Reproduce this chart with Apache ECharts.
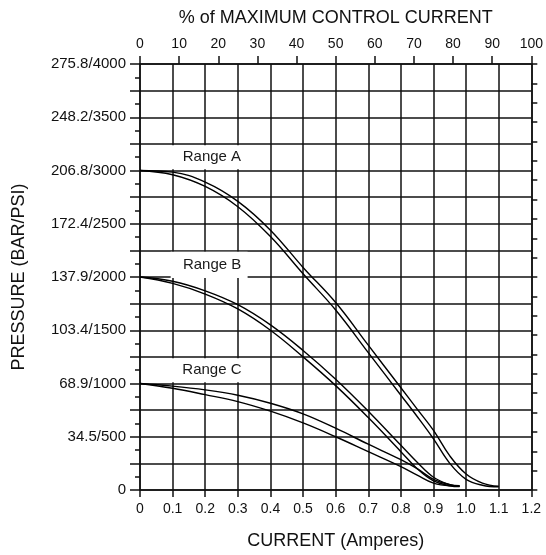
<!DOCTYPE html>
<html><head><meta charset="utf-8">
<script src="https://cdn.jsdelivr.net/npm/echarts@6/dist/echarts.min.js"></script>
<style>html,body{margin:0;padding:0;background:#fff}#c{width:546px;height:555px}</style>
</head><body><div id="c"></div><script>
// ---- data ----
const psiTicks   = [0, 500, 1000, 1500, 2000, 2500, 3000, 3500, 4000];
const tickLabels = ['0', '34.5/500', '68.9/1000', '103.4/1500', '137.9/2000', '172.4/2500', '206.8/3000', '248.2/3500', '275.8/4000'];

const ampsA     = [0, 0.1, 0.2, 0.3, 0.4, 0.5, 0.6, 0.7, 0.8, 0.85, 0.9, 0.95, 1.0, 1.05, 1.1];
const psiAOuter = [3000, 2985, 2890, 2710, 2440, 2090, 1760, 1360, 960, 760, 560, 320, 150, 65, 35];
const psiAInner = [3000, 2960, 2850, 2660, 2380, 2030, 1690, 1290, 890, 690, 480, 250, 100, 45, 30];

const ampsB     = [0, 0.1, 0.2, 0.3, 0.4, 0.5, 0.6, 0.7, 0.8, 0.85, 0.9, 0.95, 0.98];
const psiBOuter = [2000, 1960, 1870, 1740, 1550, 1310, 1040, 740, 420, 260, 120, 50, 35];
const psiBInner = [2000, 1940, 1840, 1700, 1500, 1250, 980, 680, 360, 200, 85, 40, 32];

const ampsC     = [0, 0.1, 0.2, 0.3, 0.4, 0.5, 0.6, 0.7, 0.8, 0.85, 0.9, 0.95, 0.98];
const psiCUpper = [1000, 975, 940, 890, 815, 715, 580, 430, 285, 200, 100, 50, 40];
const psiCLower = [1000, 955, 895, 830, 740, 630, 500, 360, 220, 140, 65, 40, 38];

const rangeNames = ['Range A', 'Range B', 'Range C'];

// ---- layout / style ----
const FONT = '"Liberation Sans", Arial, Helvetica, sans-serif';
const INK = '#111';
const GRIDW = 1.5;

// annotation boxes (data coords) for the range labels
const labelBoxes = [
  {from: [0.094, 3012], to: [0.396, 3238], offset: [-8, 0]},
  {from: [0.094, 1990], to: [0.33, 2238], offset: [3, 0]},
  {from: [0.094, 1012], to: [0.396, 1238], offset: [-8, 0]}
];

const pairs = (xs, ys) => xs.map((x, i) => [x, ys[i]]);
const labelMap = {};
psiTicks.forEach((p, i) => labelMap[p] = tickLabels[i]);

const lineSeries = (data, extra) => Object.assign({
  type: 'line', xAxisIndex: 0, yAxisIndex: 0, data: data,
  showSymbol: false, symbol: 'none', smooth: 0.4,
  lineStyle: {color: '#000', width: 1.4}, silent: true, z: 3
}, extra || {});

const chart = echarts.init(document.getElementById('c'), null, {renderer: 'canvas'});
chart.setOption({
  animation: false,
  backgroundColor: '#fff',
  grid: {left: 140, right: 14, top: 64, bottom: 65, containLabel: false},
  xAxis: [
    {
      type: 'value', position: 'bottom', min: 0, max: 1.2, interval: 0.1,
      axisLine: {show: true, onZero: false, lineStyle: {color: INK, width: GRIDW}},
      axisTick: {show: true, length: 7, lineStyle: {color: INK, width: GRIDW}},
      axisLabel: {color: INK, fontSize: 14, fontFamily: FONT, margin: 12,
        formatter: v => (Math.abs(v) < 1e-9 ? '0' : (+v).toFixed(1))},
      splitLine: {show: true, lineStyle: {color: INK, width: GRIDW}},
      name: 'CURRENT (Amperes)', nameLocation: 'middle', nameGap: 42,
      nameTextStyle: {color: INK, fontSize: 18, fontFamily: FONT}
    },
    {
      type: 'value', position: 'top', min: 0, max: 100, interval: 10,
      axisLine: {show: true, onZero: false, lineStyle: {color: INK, width: GRIDW}},
      axisTick: {show: true, length: 8, lineStyle: {color: INK, width: GRIDW}},
      axisLabel: {color: INK, fontSize: 14, fontFamily: FONT, margin: 13},
      splitLine: {show: false},
      name: '% of MAXIMUM CONTROL CURRENT', nameLocation: 'middle', nameGap: 37,
      nameTextStyle: {color: INK, fontSize: 18, fontFamily: FONT}
    }
  ],
  yAxis: [
    {
      type: 'value', position: 'left', min: 0, max: 4000, interval: 250,
      axisLine: {show: true, onZero: false, lineStyle: {color: INK, width: GRIDW}},
      axisTick: {show: true, length: 10, lineStyle: {color: INK, width: GRIDW}},
      minorTick: {show: true, splitNumber: 2, length: 5, lineStyle: {color: INK, width: GRIDW}},
      minorSplitLine: {show: false},
      axisLabel: {color: INK, fontSize: 15, fontFamily: FONT, margin: 14,
        formatter: v => (labelMap[Math.round(v)] !== undefined ? labelMap[Math.round(v)] : '')},
      splitLine: {show: true, lineStyle: {color: INK, width: GRIDW}},
      name: 'PRESSURE (BAR/PSI)', nameLocation: 'middle', nameGap: 112,
      nameTextStyle: {color: INK, fontSize: 18, fontFamily: FONT}
    },
    {
      type: 'value', position: 'right', min: 0, max: 22, interval: 1,
      axisLine: {show: true, onZero: false, lineStyle: {color: INK, width: GRIDW}},
      axisTick: {show: true, length: 6, lineStyle: {color: INK, width: GRIDW}},
      axisLabel: {show: false},
      splitLine: {show: false}
    }
  ],
  series: [
    lineSeries(pairs(ampsA, psiAOuter), {
      name: rangeNames[0],
      markArea: {
        silent: true,
        itemStyle: {color: '#fff', opacity: 1, borderWidth: 0},
        label: {show: true, position: 'inside', color: '#1a1a1a', fontSize: 15, fontFamily: FONT},
        data: labelBoxes.map((b, i) => [
          {coord: b.from, name: rangeNames[i], label: {offset: b.offset}},
          {coord: b.to}
        ])
      }
    }),
    lineSeries(pairs(ampsA, psiAInner), {name: rangeNames[0] + ' (2)'}),
    lineSeries(pairs(ampsB, psiBOuter), {name: rangeNames[1]}),
    lineSeries(pairs(ampsB, psiBInner), {name: rangeNames[1] + ' (2)'}),
    lineSeries(pairs(ampsC, psiCUpper), {name: rangeNames[2]}),
    lineSeries(pairs(ampsC, psiCLower), {name: rangeNames[2] + ' (2)'})
  ]
});
</script></body></html>
